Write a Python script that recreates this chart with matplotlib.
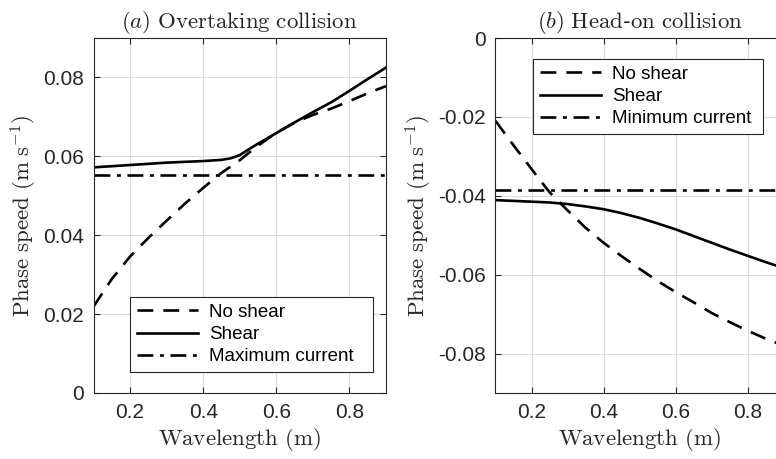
import matplotlib.pyplot as plt
import numpy as np

plt.rcParams['mathtext.fontset'] = 'cm'
plt.rcParams['font.family'] = 'Liberation Sans'

#%% data
# (a) overtaking collision
lam_a = [0.10, 0.15, 0.20, 0.25, 0.30, 0.35, 0.40, 0.45, 0.475, 0.50, 0.525, 0.55, 0.60, 0.65, 0.70, 0.75, 0.80, 0.85, 0.90]
noshear_a = [0.0219, 0.0289, 0.0346, 0.0393, 0.0437, 0.0480, 0.0520, 0.0558, 0.0574, 0.0590, 0.0609, 0.0627, 0.0660, 0.0685, 0.0705, 0.0721, 0.0740, 0.0760, 0.0778]
shear_a = [0.0572, 0.0575, 0.0578, 0.0581, 0.0584, 0.0586, 0.0588, 0.0591, 0.0595, 0.0603, 0.0618, 0.0632, 0.0659, 0.0686, 0.0712, 0.0737, 0.0766, 0.0796, 0.0825]
max_current = 0.0553

# (b) head-on collision
lam_b = [0.10, 0.15, 0.20, 0.25, 0.30, 0.35, 0.40, 0.45, 0.50, 0.55, 0.60, 0.65, 0.70, 0.75, 0.80, 0.85, 0.90]
noshear_b = [-0.0210, -0.0272, -0.0332, -0.0391, -0.0437, -0.0481, -0.0519, -0.0553, -0.0585, -0.0616, -0.0644, -0.0670, -0.0697, -0.0720, -0.0742, -0.0762, -0.0780]
shear_b = [-0.0411, -0.0413, -0.0415, -0.0417, -0.0421, -0.0427, -0.0434, -0.0444, -0.0456, -0.0470, -0.0485, -0.0502, -0.0519, -0.0536, -0.0552, -0.0568, -0.0583]
min_current = -0.0385

#%% plot
fig = plt.figure(figsize=(7.76, 4.59), dpi=100)
ax1 = fig.add_axes([93.5/776, 1-393/459, 292.5/776, 355/459])
ax2 = fig.add_axes([495.5/776, 1-393/459, 288/776, 355/459])

dark = '#262626'
lw = 1.9
dash = (0, (6, 3.8))
dashdot = (0, (6, 2.5, 1.5, 2.5))

def style(ax):
    ax.grid(True, color='#dcdcdc', linewidth=0.8)
    ax.set_axisbelow(True)
    ax.tick_params(direction='in', top=True, right=True, length=4, width=0.8,
                   colors=dark, labelsize=15, labelcolor=dark, pad=7)
    for s in ax.spines.values():
        s.set_color(dark)
        s.set_linewidth(0.8)
    ax.set_xlim(0.1, 0.9)
    ax.set_xticks([0.2, 0.4, 0.6, 0.8])
    ax.set_xticklabels(['0.2', '0.4', '0.6', '0.8'])
    ax.set_xlabel(r'$\mathrm{Wavelength\ (m)}$', fontsize=16.5, color=dark, labelpad=3)
    ax.set_ylabel(r'$\mathrm{Phase\ speed\ (m\ s^{-1})}$', fontsize=16.5, color=dark, labelpad=3)

def legend(ax, anchor, loc):
    leg = ax.legend(loc=loc, bbox_to_anchor=anchor, mode='expand', fontsize=13.5,
                    fancybox=False, framealpha=1, edgecolor=dark, handlelength=3.3,
                    handletextpad=0.55, labelspacing=0.28, borderaxespad=0, borderpad=0.35)
    leg.get_frame().set_linewidth(0.8)

# (a)
ax1.plot(lam_a, noshear_a, 'k', ls=dash, lw=lw, label='No shear')
ax1.plot(lam_a, shear_a, 'k-', lw=lw, label='Shear')
ax1.plot([0.1, 0.9], [max_current, max_current], 'k', ls=dashdot, lw=lw, label='Maximum current')
style(ax1)
ax1.set_ylim(0, 0.09)
ax1.set_yticks([0, 0.02, 0.04, 0.06, 0.08])
ax1.set_yticklabels(['0', '0.02', '0.04', '0.06', '0.08'])
ax1.set_title(r'$(a)$ $\mathrm{Overtaking\ collision}$', fontsize=16.5, color=dark, pad=7)
legend(ax1, (36.5/292.5, 21/355, 243/292.5, 80/355), 'lower left')

# (b)
ax2.plot(lam_b, noshear_b, 'k', ls=dash, lw=lw, label='No shear')
ax2.plot(lam_b, shear_b, 'k-', lw=lw, label='Shear')
ax2.plot([0.1, 0.9], [min_current, min_current], 'k', ls=dashdot, lw=lw, label='Minimum current')
style(ax2)
ax2.set_ylim(-0.09, 0)
ax2.set_yticks([-0.08, -0.06, -0.04, -0.02, 0])
ax2.set_yticklabels(['-0.08', '-0.06', '-0.04', '-0.02', '0'])
ax2.set_title(r'$(b)$ $\mathrm{Head}$-$\mathrm{on\ collision}$', fontsize=16.5, color=dark, pad=7)
legend(ax2, (37.5/288, 255/355, 230/288, 79/355), 'upper left')

fig.savefig('out.png', dpi=100)
